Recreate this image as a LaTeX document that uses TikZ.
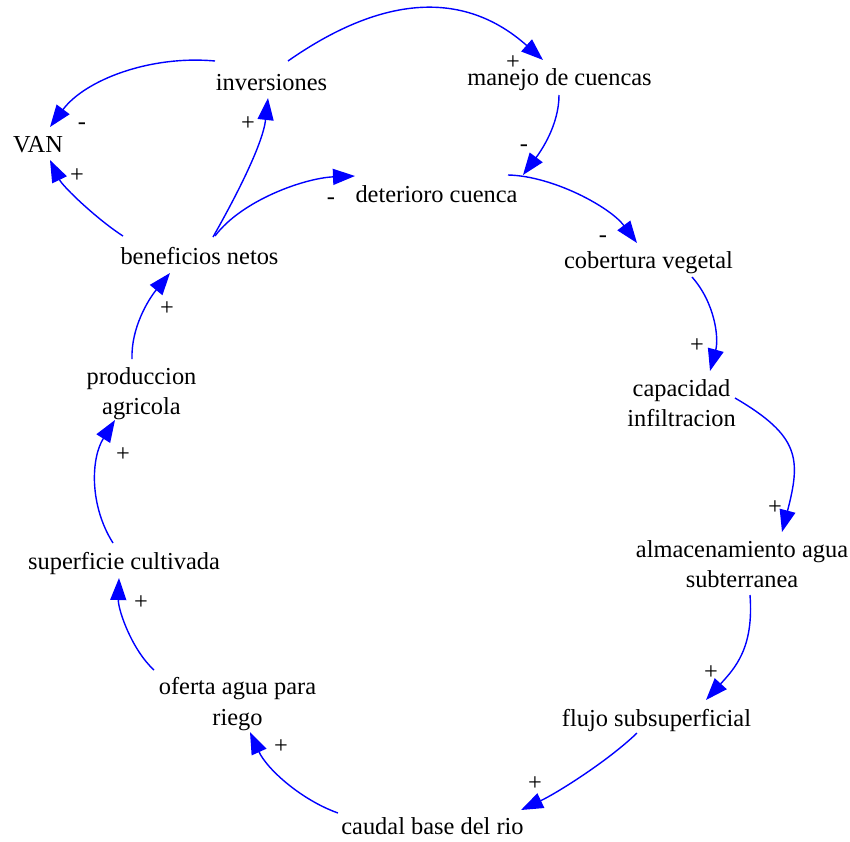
\documentclass[tikz,border=0pt]{standalone}
\usepackage{fontspec}
\setmainfont{LiberationSerif}[Extension=.ttf, UprightFont=*-Regular, BoldFont=*-Bold, ItalicFont=*-Italic, BoldItalicFont=*-BoldItalic]
\usetikzlibrary{arrows.meta}
\newcommand\cldfont{\rmfamily\fontsize{24.5}{30.5}\selectfont}
\definecolor{linkblue}{RGB}{0,0,255}
\tikzset{
  var/.style={align=center, inner sep=0pt, font=\cldfont, text=black},
  sgn/.style={inner sep=0pt, font=\cldfont, text=black},
  link/.style={draw=linkblue, line width=1.4bp, -{Triangle[length=22bp,width=16bp]}}
}
\begin{document}
\begin{tikzpicture}[x=1bp, y=-1bp]
\useasboundingbox[fill=white] (0,0) rectangle (850,842);
% variables
\node[var] (van) at (38,146.9) {\strut VAN};
\node[var] (inv) at (271.5,84.4) {\strut inversiones};
\node[var] (man) at (559.5,79.9) {\strut manejo de cuencas};
\node[var] (det) at (436.5,196.9) {\strut deterioro cuenca};
\node[var] (cob) at (648.5,262.9) {\strut cobertura vegetal};
\node[var] (cap) at (681.5,405.4) {\strut capacidad\\infiltracion\strut};
\node[var] (alm) at (742,566.4) {\strut almacenamiento agua\\subterranea\strut};
\node[var] (flu) at (656.5,720.9) {\strut flujo subsuperficial};
\node[var] (cau) at (432.5,828.9) {\strut caudal base del rio};
\node[var] (ofe) at (237.5,703.9) {\strut oferta agua para\\riego\strut};
\node[var] (sup) at (124,563.9) {\strut superficie cultivada};
\node[var] (pro) at (141.5,393.4) {\strut produccion\\agricola\strut};
\node[var] (ben) at (199.5,258.9) {\strut beneficios netos};
% links
\draw[link] ([shift={(-56.5,-23.4)}]inv.center) .. controls (150,55) and (85,80) .. ([shift={(12,-19.9)}]van.center);
\draw[link] ([shift={(-76.5,-22.9)}]ben.center) .. controls (98,220) and (63,187) .. ([shift={(12,13.1)}]van.center);
\draw[link] ([shift={(13.5,-21.9)}]ben.center) .. controls (238,193) and (263,143) .. ([shift={(-3.5,13.6)}]inv.center);
\draw[link] ([shift={(15.5,-22.9)}]ben.center) .. controls (242,200) and (305,178) .. ([shift={(-81.5,-20.9)}]det.center);
\draw[link] ([shift={(16.5,-23.4)}]inv.center) .. controls (378,-2) and (461,-13) .. ([shift={(-16.5,-19.9)}]man.center);
\draw[link] ([shift={(-0.5,15.1)}]man.center) .. controls (559,125) and (541,151) .. ([shift={(86.5,-21.9)}]det.center);
\draw[link] ([shift={(71.5,-21.9)}]det.center) .. controls (553,176) and (610,207) .. ([shift={(-11.5,-19.9)}]cob.center);
\draw[link] ([shift={(43.5,14.1)}]cob.center) .. controls (715,303) and (719,338) .. ([shift={(28.5,-34.4)}]cap.center);
\draw[link] ([shift={(53.5,-7.4)}]cap.center) .. controls (800,436) and (801,459) .. ([shift={(40,-34.4)}]alm.center);
\draw[link] ([shift={(8,28.6)}]alm.center) .. controls (754,648) and (735,668) .. ([shift={(49.5,-20.9)}]flu.center);
\draw[link] ([shift={(-19.5,12.1)}]flu.center) .. controls (608,761) and (557,793) .. ([shift={(88.5,-18.9)}]cau.center);
\draw[link] ([shift={(-94.5,-15.9)}]cau.center) .. controls (300.4,799.6) and (266.5,768.4) .. ([shift={(12.5,28.1)}]ofe.center);
\draw[link] ([shift={(-83.5,-33.9)}]ofe.center) .. controls (132,650) and (118,610) .. ([shift={(-5,14.1)}]sup.center);
\draw[link] ([shift={(-11,-20.9)}]sup.center) .. controls (89,505) and (91,458) .. ([shift={(-26.5,26.6)}]pro.center);
\draw[link] ([shift={(-9.5,-34.4)}]pro.center) .. controls (131,328) and (148,300) .. ([shift={(-29.5,14.1)}]ben.center);
% polarity signs
\node[sgn] (s1) at (82,126) {-};
\node[sgn] (s2) at (77,176) {+};
\node[sgn] (s3) at (248,124) {+};
\node[sgn] (s4) at (331,201) {-};
\node[sgn] (s5) at (513,63) {+};
\node[sgn] (s6) at (524,148) {-};
\node[sgn] (s7) at (603,239) {-};
\node[sgn] (s8) at (697,346) {+};
\node[sgn] (s9) at (775,508) {+};
\node[sgn] (s10) at (711,673) {+};
\node[sgn] (s11) at (535,784) {+};
\node[sgn] (s12) at (281,747) {+};
\node[sgn] (s13) at (141,603) {+};
\node[sgn] (s14) at (123,455) {+};
\node[sgn] (s15) at (167,309) {+};
\end{tikzpicture}
\end{document}
